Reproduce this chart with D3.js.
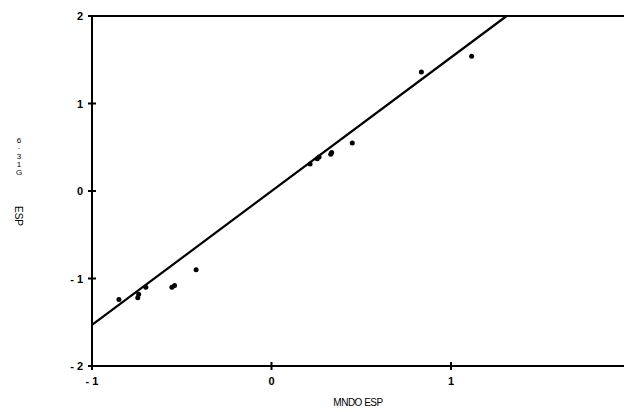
<!DOCTYPE html>
<html>
<head>
<meta charset="utf-8">
<script src="https://cdn.jsdelivr.net/npm/d3@7"></script>
<style>
  body { margin: 0; background: #fff; }
  text { font-family: "Liberation Sans", Arial, sans-serif; fill: #000; }
</style>
</head>
<body>
<div id="chart"></div>
<script>
// MNDO ESP (x) vs 6-31G ESP (y)
var mndo = [-0.85, -0.745, -0.74, -0.70, -0.555, -0.54, -0.42, 0.215, 0.255, 0.265, 0.33, 0.335, 0.45, 0.835, 1.115];
var g631 = [-1.24, -1.22, -1.18, -1.10, -1.10, -1.08, -0.90, 0.31, 0.37, 0.39, 0.42, 0.44, 0.55, 1.36, 1.54];
var fitX = [-1, 1.31];
var fitY = [-1.53, 2.0];
var xTicks = [-1, 0, 1];
var yTicks = [-2, -1, 0, 1, 2];

var width = 624, height = 412;
var svg = d3.select("#chart").append("svg")
    .attr("width", width).attr("height", height);

var x = d3.scaleLinear().domain([-1, 1]).range([92, 451]);
var y = d3.scaleLinear().domain([-2, 2]).range([366, 16]);

var fmt = function(d) { return d < 0 ? "- " + Math.abs(d) : "" + d; };

// frame lines (left, top, bottom)
svg.append("line").attr("x1", 92).attr("x2", 92).attr("y1", y(2)).attr("y2", y(-2))
    .attr("stroke", "#000").attr("stroke-width", 2);
svg.append("line").attr("x1", 92).attr("x2", width).attr("y1", y(2)).attr("y2", y(2))
    .attr("stroke", "#000").attr("stroke-width", 2);
svg.append("line").attr("x1", 92).attr("x2", width).attr("y1", y(-2)).attr("y2", y(-2))
    .attr("stroke", "#000").attr("stroke-width", 2);

// y ticks
svg.selectAll(".yt").data(yTicks).enter().append("line")
    .attr("x1", 88).attr("x2", 96)
    .attr("y1", function(d) { return y(d); }).attr("y2", function(d) { return y(d); })
    .attr("stroke", "#000").attr("stroke-width", 2);
svg.selectAll(".yl").data(yTicks).enter().append("text")
    .attr("x", 83).attr("y", function(d) { return y(d) + 4; })
    .attr("text-anchor", "end").attr("font-size", 11).attr("font-weight", "bold")
    .text(fmt);

// x ticks
svg.selectAll(".xt").data(xTicks).enter().append("line")
    .attr("x1", function(d) { return x(d); }).attr("x2", function(d) { return x(d); })
    .attr("y1", 362).attr("y2", 370)
    .attr("stroke", "#000").attr("stroke-width", 2);
svg.selectAll(".xl").data(xTicks).enter().append("text")
    .attr("x", function(d) { return x(d); }).attr("y", 385)
    .attr("text-anchor", "middle").attr("font-size", 11).attr("font-weight", "bold")
    .text(fmt);

// fit line
svg.append("line")
    .attr("x1", x(fitX[0])).attr("y1", y(fitY[0]))
    .attr("x2", x(fitX[1])).attr("y2", y(fitY[1]))
    .attr("stroke", "#000").attr("stroke-width", 2.2);

// points
svg.selectAll(".pt").data(mndo).enter().append("circle")
    .attr("cx", function(d) { return x(d); })
    .attr("cy", function(d, i) { return y(g631[i]); })
    .attr("r", 2.5).attr("fill", "#000");

// axis titles
svg.append("text").attr("x", 358).attr("y", 406)
    .attr("text-anchor", "middle").attr("font-size", 10)
    .attr("letter-spacing", -0.5)
    .text("MNDO ESP");

var stack = ["6", "·", "3", "1", "G"];
var sy = [143, 151, 159, 167, 175];
svg.selectAll(".st").data(stack).enter().append("text")
    .attr("x", 19).attr("y", function(d, i) { return sy[i]; })
    .attr("text-anchor", "middle").attr("font-size", 8)
    .text(function(d) { return d; });
svg.append("text")
    .attr("transform", "translate(15,216) rotate(90)")
    .attr("text-anchor", "middle").attr("font-size", 10)
    .text("ESP");
</script>
</body>
</html>
